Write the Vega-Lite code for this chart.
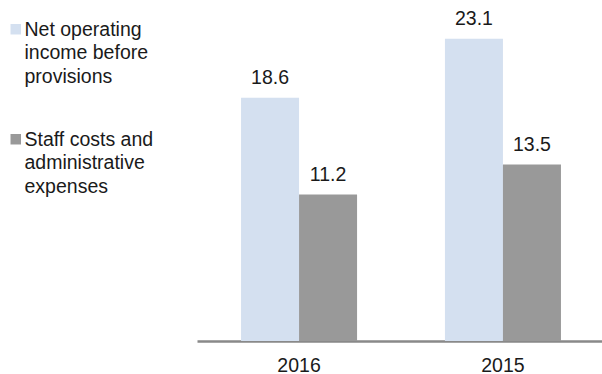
{
  "$schema": "https://vega.github.io/schema/vega-lite/v6.json",
  "autosize": {"type": "none"},
  "padding": {"left": 197, "top": 14, "right": 0, "bottom": 33},
  "width": 408,
  "height": 327,
  "background": "white",
  "config": {
    "view": {"stroke": null},
    "font": "Liberation Sans"
  },
  "data": {
    "values": [
      {"year": "2016", "series": "Net operating income before provisions", "value": 18.6},
      {"year": "2016", "series": "Staff costs and administrative expenses", "value": 11.2},
      {"year": "2015", "series": "Net operating income before provisions", "value": 23.1},
      {"year": "2015", "series": "Staff costs and administrative expenses", "value": 13.5}
    ]
  },
  "encoding": {
    "x": {
      "field": "year", "type": "nominal", "sort": ["2016", "2015"],
      "scale": {"paddingInner": 0.431, "paddingOuter": 0.216},
      "axis": {
        "title": null, "ticks": false, "labelAngle": 0, "domainColor": "#898989", "domainWidth": 2.5,
        "labelFontSize": 19.5, "labelColor": "#1a1a1a", "labelBaseline": "alphabetic", "labelPadding": 30,
        "labelFont": "Liberation Sans"
      }
    },
    "xOffset": {"field": "series", "type": "nominal", "scale": {"paddingInner": 0, "paddingOuter": 0}},
    "y": {"field": "value", "type": "quantitative", "scale": {"domain": [0, 25]}, "axis": null}
  },
  "layer": [
    {
      "mark": {"type": "bar"},
      "encoding": {
        "color": {
          "field": "series", "type": "nominal",
          "scale": {"range": ["#d4e0f0", "#999999"]},
          "legend": {
            "title": null, "orient": "none", "legendX": -191, "legendY": 5.5,
            "symbolType": "square", "symbolSize": 110, "symbolStrokeWidth": 0,
            "labelFontSize": 19.5, "labelColor": "#1a1a1a", "labelFont": "Liberation Sans",
            "labelOffset": -1, "labelLimit": 300, "rowPadding": 43, "labelBaseline": "top",
            "labelExpr": "datum.label == 'Net operating income before provisions' ? ['Net operating', 'income before', 'provisions'] : ['Staff costs and', 'administrative', 'expenses']",
            "encode": {"labels": {"update": {"lineHeight": {"value": 23.5}, "dy": {"value": -8.5}}}}
          }
        }
      }
    },
    {
      "mark": {"type": "text", "baseline": "alphabetic", "dy": -13.5, "fontSize": 19.5, "color": "#1a1a1a", "font": "Liberation Sans"},
      "encoding": {
        "text": {"field": "value", "type": "quantitative", "format": ".1f"}
      }
    }
  ]
}
